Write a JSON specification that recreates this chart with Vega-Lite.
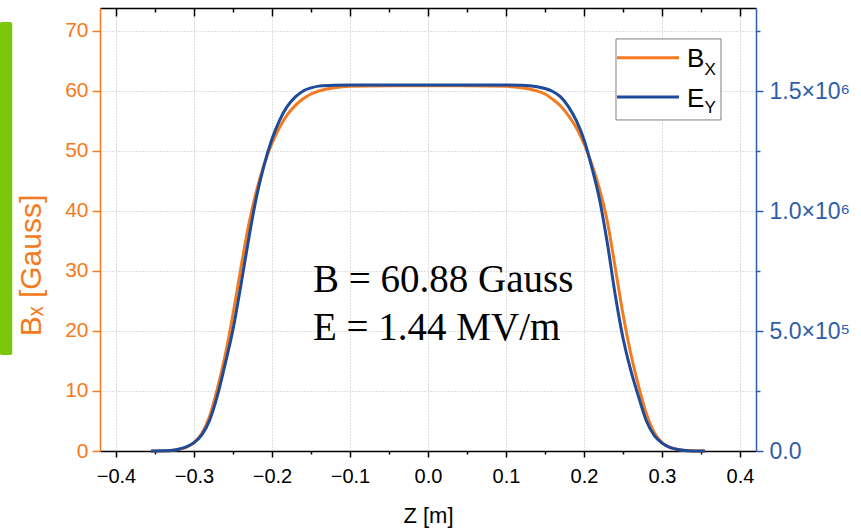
{
  "$schema": "https://vega.github.io/schema/vega-lite/v6.json",
  "width": 656,
  "height": 443,
  "autosize": "none",
  "padding": {"left": 100, "top": 8, "right": 105, "bottom": 80},
  "background": "white",
  "config": {
    "view": {"stroke": null},
    "font": "Liberation Sans",
    "axis": {"labelFont": "Liberation Sans", "titleFont": "Liberation Sans", "titleFontWeight": "normal", "labelOverlap": false, "labelFlush": false}
  },
  "datasets": {
    "field": [
      {"z": -0.355, "B": 0, "E": 0},
      {"z": -0.34, "B": 0.02, "E": 751},
      {"z": -0.33, "B": 0.08, "E": 2505},
      {"z": -0.32, "B": 0.25, "E": 7515},
      {"z": -0.31, "B": 0.6, "E": 17534},
      {"z": -0.30, "B": 1.4, "E": 35069},
      {"z": -0.29, "B": 2.9, "E": 67632},
      {"z": -0.28, "B": 5.8, "E": 127750},
      {"z": -0.27, "B": 10.4, "E": 230451},
      {"z": -0.26, "B": 16.0, "E": 363211},
      {"z": -0.25, "B": 22.8, "E": 505990},
      {"z": -0.24, "B": 30.4, "E": 688848},
      {"z": -0.23, "B": 37.6, "E": 881725},
      {"z": -0.22, "B": 43.3, "E": 1057068},
      {"z": -0.21, "B": 47.8, "E": 1192332},
      {"z": -0.20, "B": 51.3, "E": 1300043},
      {"z": -0.19, "B": 54.0, "E": 1380200},
      {"z": -0.18, "B": 56.1, "E": 1437813},
      {"z": -0.17, "B": 57.6, "E": 1475386},
      {"z": -0.16, "B": 58.7, "E": 1500435},
      {"z": -0.15, "B": 59.5, "E": 1512960},
      {"z": -0.14, "B": 60.0, "E": 1520474},
      {"z": -0.12, "B": 60.55, "E": 1524232},
      {"z": -0.10, "B": 60.78, "E": 1525000},
      {"z": -0.05, "B": 60.88, "E": 1525000},
      {"z": 0.0, "B": 60.88, "E": 1525000},
      {"z": 0.05, "B": 60.88, "E": 1525000},
      {"z": 0.10, "B": 60.78, "E": 1525000},
      {"z": 0.12, "B": 60.55, "E": 1524232},
      {"z": 0.14, "B": 60.0, "E": 1517969},
      {"z": 0.15, "B": 59.5, "E": 1510455},
      {"z": 0.16, "B": 58.6, "E": 1497930},
      {"z": 0.17, "B": 57.5, "E": 1475386},
      {"z": 0.18, "B": 55.9, "E": 1435308},
      {"z": 0.19, "B": 53.9, "E": 1377695},
      {"z": 0.20, "B": 51.2, "E": 1297538},
      {"z": 0.21, "B": 47.8, "E": 1182313},
      {"z": 0.22, "B": 43.6, "E": 1047048},
      {"z": 0.23, "B": 38.2, "E": 864191},
      {"z": 0.24, "B": 30.6, "E": 651274},
      {"z": 0.25, "B": 22.8, "E": 470921},
      {"z": 0.26, "B": 16.2, "E": 335657},
      {"z": 0.27, "B": 10.8, "E": 225441},
      {"z": 0.28, "B": 6.2, "E": 125245},
      {"z": 0.29, "B": 3.1, "E": 65127},
      {"z": 0.30, "B": 1.4, "E": 32564},
      {"z": 0.31, "B": 0.6, "E": 15029},
      {"z": 0.32, "B": 0.25, "E": 6262},
      {"z": 0.33, "B": 0.08, "E": 2004},
      {"z": 0.34, "B": 0.02, "E": 501},
      {"z": 0.355, "B": 0, "E": 0}
    ],
    "notes": [
      {"z": -0.1474, "v": 26.5, "t": "B = 60.88 Gauss"},
      {"z": -0.1474, "v": 18.5, "t": "E = 1.44 MV/m"}
    ],
    "legendBox": [
      {"z1": 0.241, "z2": 0.3756, "v1": 55.17, "v2": 68.67}
    ],
    "legendLines": [
      {"z1": 0.2423, "z2": 0.3218, "v": 65.55, "s": "B"},
      {"z1": 0.2423, "z2": 0.3218, "v": 59.0, "s": "E"}
    ],
    "legendMain": [
      {"z": 0.3321, "v": 64.0, "t": "B"},
      {"z": 0.3321, "v": 57.33, "t": "E"}
    ],
    "legendSub": [
      {"z": 0.3545, "v": 62.67, "t": "X"},
      {"z": 0.3545, "v": 56.33, "t": "Y"}
    ],
    "decor": [
      {"z1": -0.549, "z2": -0.533, "v1": 16.0, "v2": 71.5}
    ]
  },
  "layer": [
    {
      "layer": [
        {
          "data": {"name": "field"},
          "mark": {"type": "line", "color": "#F47A20", "strokeWidth": 3, "interpolate": "monotone"},
          "encoding": {
            "x": {
              "field": "z", "type": "quantitative",
              "scale": {"domain": [-0.4205, 0.4205], "nice": false, "zero": false},
              "axis": {
                "orient": "bottom",
                "title": "Z [m]",
                "values": [-0.4, -0.35, -0.3, -0.25, -0.2, -0.15, -0.1, -0.05, 0, 0.05, 0.1, 0.15, 0.2, 0.25, 0.3, 0.35, 0.4],
                "labelExpr": "abs(round(datum.value*100)) % 10 == 0 ? format(datum.value, '.1f') : ''",
                "tickSize": {"condition": {"test": "abs(round(datum.value*100)) % 10 == 0", "value": 6}, "value": 3},
                "tickColor": "black", "tickWidth": 1.5,
                "domainColor": "black", "domainWidth": 1.5,
                "labelColor": "black", "labelFontSize": 20, "labelPadding": 9,
                "titleColor": "black", "titleFontSize": 22, "titlePadding": 19,
                "grid": true, "gridDash": [1, 2], "gridColor": "#bdbdbd", "gridWidth": 1,
                "gridOpacity": {"condition": {"test": "abs(round(datum.value*100)) % 10 == 0", "value": 1}, "value": 0}
              }
            },
            "y": {
              "field": "B", "type": "quantitative",
              "scale": {"domain": [0, 73.83], "nice": false, "zero": false},
              "axis": {
                "orient": "left",
                "title": "Bₓ [Gauss]",
                "values": [0, 5, 10, 15, 20, 25, 30, 35, 40, 45, 50, 55, 60, 65, 70],
                "labelExpr": "datum.value % 10 == 0 ? format(datum.value, 'd') : ''",
                "tickSize": {"condition": {"test": "datum.value % 10 == 0", "value": 8}, "value": 4},
                "tickColor": "#F47A20", "tickWidth": 1.5,
                "domainColor": "#F47A20", "domainWidth": 1.5,
                "labelColor": "#F47A20", "labelFontSize": 21, "labelPadding": 4,
                "titleColor": "#F47A20", "titleFontSize": 30, "titlePadding": 18,
                "titleY": 257,
                "grid": true, "gridDash": [1, 2], "gridColor": "#bdbdbd", "gridWidth": 1,
                "gridOpacity": {"condition": {"test": "datum.value % 10 == 0 && datum.value > 0", "value": 1}, "value": 0}
              }
            }
          }
        },
        {
          "data": {"name": "decor"},
          "mark": {"type": "rect", "color": "#7CC70A", "cornerRadius": 2},
          "encoding": {
            "x": {"field": "z1", "type": "quantitative", "scale": {"domain": [-0.4205, 0.4205], "nice": false, "zero": false}},
            "x2": {"field": "z2"},
            "y": {"field": "v1", "type": "quantitative", "scale": {"domain": [0, 73.83], "nice": false, "zero": false}},
            "y2": {"field": "v2"}
          }
        },
        {
          "data": {"name": "notes"},
          "mark": {"type": "text", "font": "Liberation Serif", "fontSize": 39, "align": "left", "baseline": "alphabetic", "color": "black"},
          "encoding": {
            "x": {"field": "z", "type": "quantitative", "scale": {"domain": [-0.4205, 0.4205], "nice": false, "zero": false}},
            "y": {"field": "v", "type": "quantitative", "scale": {"domain": [0, 73.83], "nice": false, "zero": false}},
            "text": {"field": "t"}
          }
        },
        {
          "data": {"name": "legendBox"},
          "mark": {"type": "rect", "fill": "white", "stroke": "#7f7f7f", "strokeWidth": 1},
          "encoding": {
            "x": {"field": "z1", "type": "quantitative", "scale": {"domain": [-0.4205, 0.4205], "nice": false, "zero": false}},
            "x2": {"field": "z2"},
            "y": {"field": "v1", "type": "quantitative", "scale": {"domain": [0, 73.83], "nice": false, "zero": false}},
            "y2": {"field": "v2"}
          }
        },
        {
          "data": {"name": "legendLines"},
          "mark": {"type": "rule", "strokeWidth": 3},
          "encoding": {
            "x": {"field": "z1", "type": "quantitative", "scale": {"domain": [-0.4205, 0.4205], "nice": false, "zero": false}},
            "x2": {"field": "z2"},
            "y": {"field": "v", "type": "quantitative", "scale": {"domain": [0, 73.83], "nice": false, "zero": false}},
            "color": {"field": "s", "type": "nominal", "scale": {"domain": ["B", "E"], "range": ["#F47A20", "#1E4A9A"]}, "legend": null}
          }
        },
        {
          "data": {"name": "legendMain"},
          "mark": {"type": "text", "fontSize": 26, "align": "left", "baseline": "alphabetic", "color": "black"},
          "encoding": {
            "x": {"field": "z", "type": "quantitative", "scale": {"domain": [-0.4205, 0.4205], "nice": false, "zero": false}},
            "y": {"field": "v", "type": "quantitative", "scale": {"domain": [0, 73.83], "nice": false, "zero": false}},
            "text": {"field": "t"}
          }
        },
        {
          "data": {"name": "legendSub"},
          "mark": {"type": "text", "fontSize": 17, "align": "left", "baseline": "alphabetic", "color": "black"},
          "encoding": {
            "x": {"field": "z", "type": "quantitative", "scale": {"domain": [-0.4205, 0.4205], "nice": false, "zero": false}},
            "y": {"field": "v", "type": "quantitative", "scale": {"domain": [0, 73.83], "nice": false, "zero": false}},
            "text": {"field": "t"}
          }
        }
      ]
    },
    {
      "data": {"name": "field"},
      "mark": {"type": "line", "color": "#1E4A9A", "strokeWidth": 3, "interpolate": "monotone"},
      "encoding": {
        "x": {
          "field": "z", "type": "quantitative",
          "scale": {"domain": [-0.4205, 0.4205], "nice": false, "zero": false},
          "axis": {
            "orient": "top",
            "title": null,
            "values": [-0.4, -0.35, -0.3, -0.25, -0.2, -0.15, -0.1, -0.05, 0, 0.05, 0.1, 0.15, 0.2, 0.25, 0.3, 0.35, 0.4],
            "labels": false,
            "tickSize": {"condition": {"test": "abs(round(datum.value*100)) % 10 == 0", "value": -8}, "value": -4},
            "tickColor": "black", "tickWidth": 1.5,
            "domainColor": "black", "domainWidth": 1.5,
            "grid": false
          }
        },
        "y": {
          "field": "E", "type": "quantitative",
          "scale": {"domain": [0, 1846000], "nice": false, "zero": false},
          "axis": {
            "orient": "right",
            "title": null,
            "values": [0, 250000, 500000, 750000, 1000000, 1250000, 1500000, 1750000],
            "labelExpr": "datum.value == 0 ? '0.0' : datum.value == 500000 ? '5.0×10⁵' : datum.value == 1000000 ? '1.0×10⁶' : datum.value == 1500000 ? '1.5×10⁶' : ''",
            "tickSize": {"condition": {"test": "datum.value % 500000 == 0", "value": 7}, "value": 4},
            "tickColor": "#2F5DAA", "tickWidth": 1.5,
            "domainColor": "#2F5DAA", "domainWidth": 1.5,
            "labelColor": "#2F5DAA", "labelFontSize": 23, "labelPadding": 6,
            "grid": false
          }
        }
      }
    }
  ],
  "resolve": {"scale": {"y": "independent"}, "axis": {"x": "independent", "y": "independent"}}
}
